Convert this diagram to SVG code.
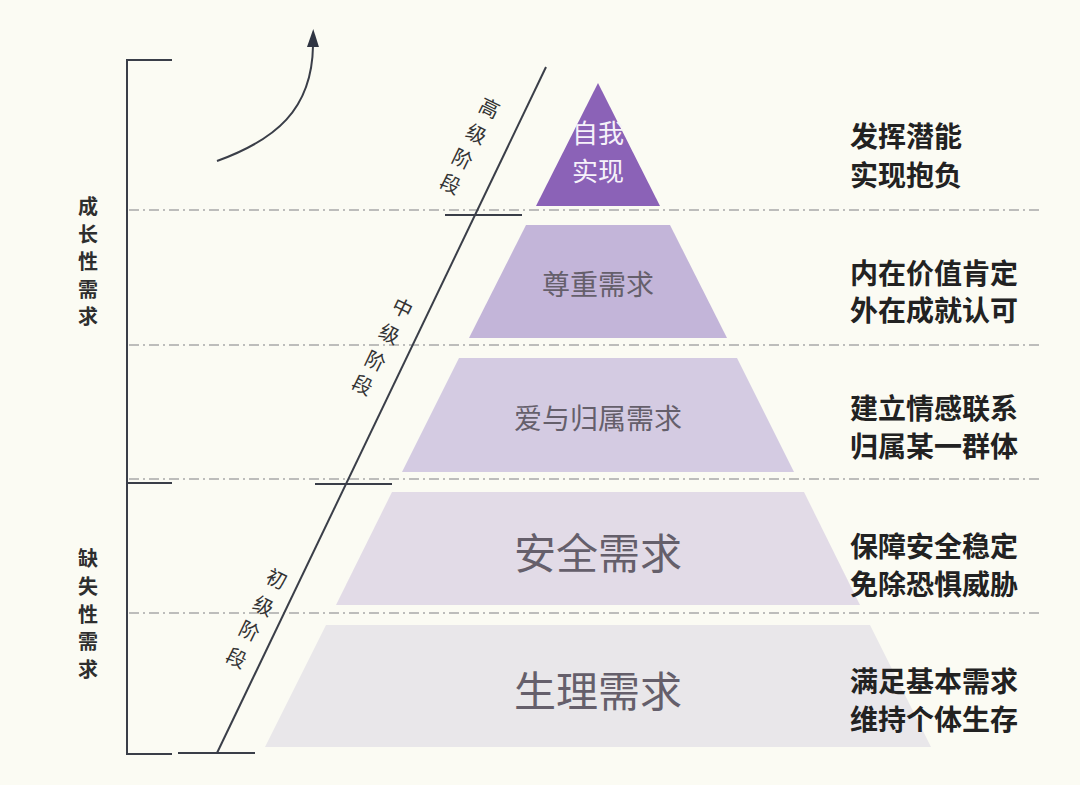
<svg xmlns="http://www.w3.org/2000/svg" width="1080" height="785" viewBox="0 0 1080 785">
<defs>
<style>
text{font-family:"Noto Sans CJK SC","Noto Sans",sans-serif;}
.ln{stroke:#3a3e48;stroke-width:2;fill:none;}
.dash{stroke:#a9a9a9;stroke-width:1.5;stroke-dasharray:10 4 2 4;fill:none;}
.side{font-size:20px;font-weight:bold;fill:#2e2e2e;text-anchor:middle;dominant-baseline:central;}
.stage{font-size:20px;fill:#333;text-anchor:middle;dominant-baseline:central;}
.desc{font-size:28px;font-weight:bold;fill:#222;dominant-baseline:central;}
.lbl{fill:#655f6b;text-anchor:middle;dominant-baseline:central;}
.top{fill:#f6f2fa;text-anchor:middle;dominant-baseline:central;font-size:26px;}
</style>
<marker id="ah" markerWidth="20" markerHeight="14" refX="1" refY="7" orient="auto" markerUnits="userSpaceOnUse">
<path d="M0,1 L18,7 L0,13 Z" fill="#2f3542"/>
</marker>
</defs>
<rect width="1080" height="785" fill="#fbfbf3"/>

<g id="connectors">
<line class="dash" x1="129" y1="210" x2="1040" y2="210"/>
<line class="dash" x1="129" y1="345" x2="1040" y2="345"/>
<line class="dash" x1="129" y1="479" x2="1040" y2="479"/>
<line class="dash" x1="129" y1="613" x2="1040" y2="613"/>
<path class="ln" d="M172,60 H127 V754 H172"/>
<line class="ln" x1="127" y1="483" x2="172" y2="483"/>
<line class="ln" x1="178" y1="753" x2="255" y2="753"/>
<line class="ln" x1="217" y1="753" x2="546" y2="67"/>
<line class="ln" x1="445" y1="215" x2="522" y2="215"/>
<line class="ln" x1="315" y1="484" x2="392" y2="484"/>
<path class="ln" d="M217,161 C275,140 312,110 313,46" marker-end="url(#ah)"/>
</g>

<g id="layer-self">
<polygon points="598,83 660,206 536,206" fill="#8b62b7"/>
<text class="top" x="598" y="131">自我</text>
<text class="top" x="598" y="169">实现</text>
</g>
<g id="layer-esteem">
<polygon points="526,225 670,225 727,338 469,338" fill="#c3b5d9"/>
<text class="lbl" x="598" y="283" font-size="28">尊重需求</text>
</g>
<g id="layer-love">
<polygon points="459,358 737,358 794,472 402,472" fill="#d4cbe2"/>
<text class="lbl" x="598" y="417" font-size="28">爱与归属需求</text>
</g>
<g id="layer-safety">
<polygon points="392,492 804,492 860,605 336,605" fill="#e2dbe7"/>
<text class="lbl" x="598" y="550" font-size="42">安全需求</text>
</g>
<g id="layer-physio">
<polygon points="326,625 870,625 931,747 265,747" fill="#e9e7ea"/>
<text class="lbl" x="598" y="688" font-size="42">生理需求</text>
</g>

<g id="growth-label">
<text class="side" x="88" y="205">成</text>
<text class="side" x="88" y="233">长</text>
<text class="side" x="88" y="260">性</text>
<text class="side" x="88" y="288">需</text>
<text class="side" x="88" y="315">求</text>
</g>
<g id="deficit-label">
<text class="side" x="88" y="557">缺</text>
<text class="side" x="88" y="585">失</text>
<text class="side" x="88" y="613">性</text>
<text class="side" x="88" y="640">需</text>
<text class="side" x="88" y="668">求</text>
</g>

<g id="stage-high">
<text class="stage" transform="translate(490,107) rotate(26)">高</text>
<text class="stage" transform="translate(477,133) rotate(26)">级</text>
<text class="stage" transform="translate(463,158) rotate(26)">阶</text>
<text class="stage" transform="translate(451,183) rotate(26)">段</text>
</g>
<g id="stage-mid">
<text class="stage" transform="translate(403,307) rotate(26)">中</text>
<text class="stage" transform="translate(390,333) rotate(26)">级</text>
<text class="stage" transform="translate(376,360) rotate(26)">阶</text>
<text class="stage" transform="translate(363,384) rotate(26)">段</text>
</g>
<g id="stage-low">
<text class="stage" transform="translate(277,578) rotate(26)">初</text>
<text class="stage" transform="translate(264,605) rotate(26)">级</text>
<text class="stage" transform="translate(250,630) rotate(26)">阶</text>
<text class="stage" transform="translate(237,657) rotate(26)">段</text>
</g>

<g id="desc-self">
<text class="desc" x="850" y="135">发挥潜能</text>
<text class="desc" x="850" y="174">实现抱负</text>
</g>
<g id="desc-esteem">
<text class="desc" x="850" y="272">内在价值肯定</text>
<text class="desc" x="850" y="309">外在成就认可</text>
</g>
<g id="desc-love">
<text class="desc" x="850" y="407">建立情感联系</text>
<text class="desc" x="850" y="445">归属某一群体</text>
</g>
<g id="desc-safety">
<text class="desc" x="850" y="545">保障安全稳定</text>
<text class="desc" x="850" y="583">免除恐惧威胁</text>
</g>
<g id="desc-physio">
<text class="desc" x="850" y="680">满足基本需求</text>
<text class="desc" x="850" y="718">维持个体生存</text>
</g>
</svg>
